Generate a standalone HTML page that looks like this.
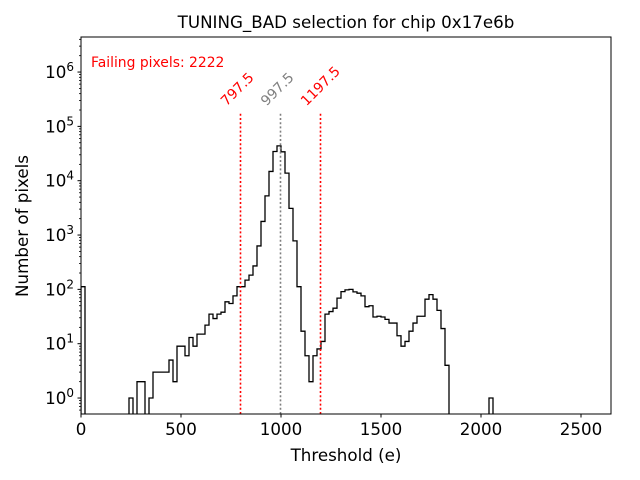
<!DOCTYPE html>
<html><head><meta charset="utf-8"><style>
body{margin:0;background:#fff;}
svg{display:block;font-family:"DejaVu Sans","Liberation Sans",sans-serif;}
</style></head><body>
<svg id="chart" width="640" height="480" viewBox="0 0 640 480">
<rect width="640" height="480" fill="#fff"/>
<text x="346" y="28" text-anchor="middle" font-size="16.7">TUNING_BAD selection for chip 0x17e6b</text>
<defs><clipPath id="pc"><rect x="81" y="37" width="530" height="377"/></clipPath></defs>
<g id="plot" clip-path="url(#pc)"></g>
<g id="axes"></g>
<text x="91" y="67" fill="#ff0000" font-size="13.9">Failing pixels: 2222</text>
<text x="346" y="461" text-anchor="middle" font-size="16.7">Threshold (e)</text>
<text transform="translate(28,226) rotate(-90)" text-anchor="middle" font-size="16.7">Number of pixels</text>
<rect x="81" y="37" width="530" height="377" fill="none" stroke="#000" stroke-width="1"/>
</svg>
<script>
const binWidth = 20;
const binStarts = [0,240,260,280,300,320,340,360,380,400,420,440,460,480,500,520,540,560,580,600,620,640,660,680,700,720,740,760,780,800,820,840,860,880,900,920,940,960,980,1000,1020,1040,1060,1080,1100,1120,1140,1160,1180,1200,1220,1240,1260,1280,1300,1320,1340,1360,1380,1400,1420,1440,1460,1480,1500,1520,1540,1560,1580,1600,1620,1640,1660,1680,1700,1720,1740,1760,1780,1800,1820,2040];
const binCounts = [112,1,0,2,2,0,1,3,3,3,3,5,2,9,9,6,13,9,15,15,22,35,29,35,38,59,55,76,112,112,148,183,270,630,1780,5250,14800,34500,43700,34000,13800,3100,780,112,17,6,2,6,8,11,35,39,45,69,91,98,100,90,85,76,48,50,31,32,31,28,24,24,14,9,11,17,24,32,32,66,80,66,41,19,4,1];
const cutValues = [797.5, 997.5, 1197.5];
const cutLabels = ["797.5","997.5","1197.5"];
const cutColors = ["#ff0000","#808080","#ff0000"];
const xTicks = [0,500,1000,1500,2000,2500];
const yExps = [0,1,2,3,4,5,6];

const NS="http://www.w3.org/2000/svg";
const X0=81, X1=611, Y0=414, Y1=37;
const xMin=0, xMax=2650, lMin=-0.294, lMax=6.645;
const xs=v=>X0+(v-xMin)/(xMax-xMin)*(X1-X0);
const ys=v=>{ if(v<=0) return Y0+5; return Y0-(Math.log10(v)-lMin)/(lMax-lMin)*(Y0-Y1); };
function mk(tag, attrs, parent){const e=document.createElementNS(NS,tag);for(const k in attrs)e.setAttribute(k,attrs[k]);parent.appendChild(e);return e;}
const plot=document.getElementById('plot'), axes=document.getElementById('axes');

let d='', prevEnd=null;
for(let i=0;i<binStarts.length;i++){
  const a=binStarts[i], b=a+binWidth, y=ys(binCounts[i]);
  if(prevEnd===null||prevEnd!==a){
    if(prevEnd!==null) d+=` L${xs(prevEnd)},${Y0+5}`;
    d+=(d?' M':'M')+`${xs(a)},${Y0+5}`;
  }
  d+=` L${xs(a)},${y} L${xs(b)},${y}`;
  prevEnd=b;
}
d+=` L${xs(prevEnd)},${Y0+5}`;
const hist=mk('path',{d:d,fill:'none',stroke:'#000','stroke-width':1.3},plot);



const lineTop=1.8e5;
for(let i=0;i<cutValues.length;i++){
  const x=xs(cutValues[i]);
  const ln=mk('line',{x1:x,x2:x,y1:Y0,y2:ys(lineTop),stroke:cutColors[i],'stroke-width':1.6,'stroke-dasharray':'2,2.2'},plot);
  
  
  const tx=x-14, ty=ys(lineTop)-6;
  const t=mk('text',{x:tx,y:ty,fill:cutColors[i],'font-size':13.9,transform:`rotate(-45 ${tx} ${ty})`},document.getElementById('chart'));
  t.textContent=cutLabels[i];
  
  
}

for(const v of xTicks){
  const x=xs(v);
  mk('line',{x1:x,x2:x,y1:Y0,y2:Y0+3.5,stroke:'#000'},axes);
  const t=mk('text',{x:x,y:Y0+21,'text-anchor':'middle','font-size':16.7},axes);
  t.textContent=String(v);
  
  
}
for(const e of yExps){
  const y=ys(Math.pow(10,e));
  mk('line',{x1:X0,x2:X0-3.5,y1:y,y2:y,stroke:'#000'},axes);
  const t=mk('text',{x:X0-7,y:y+6,'text-anchor':'end','font-size':16.7},axes);
  t.innerHTML=`10<tspan dy="-7" font-size="12">${e}</tspan>`;
  
  
}
for(let e=-1;e<=6;e++){
  for(let m=2;m<=9;m++){
    const v=m*Math.pow(10,e), y=ys(v);
    if(y<Y1||y>Y0) continue;
    mk('line',{x1:X0,x2:X0-2,y1:y,y2:y,stroke:'#000','stroke-width':0.8},axes);
  }
}
</script>
</body></html>
